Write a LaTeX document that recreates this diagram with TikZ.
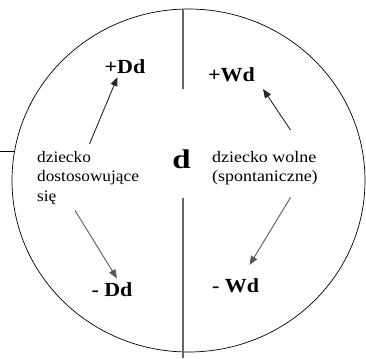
\documentclass[tikz,border=0pt]{standalone}
\usepackage{fontspec}
\usepackage{graphicx}
\setmainfont{Liberation Serif}
\usetikzlibrary{arrows.meta}

% horizontally widened text
\newcommand\widetext[2]{\scalebox{#1}[1]{#2}}
\newcommand\lines[1]{\begin{tabular}[t]{@{}l@{}}#1\end{tabular}}

\begin{document}
\begin{tikzpicture}[x=1pt,y=-1pt,
  sign/.style={font=\fontsize{20}{20}\selectfont\bfseries, anchor=base, inner sep=0pt},
  note/.style={font=\fontsize{16}{19.5}\selectfont, anchor=base west, inner sep=0pt},
  divider/.style={draw=black!60, line width=1.2pt},
  darkarrow/.style={draw=black!85, line width=0.9pt, -{Triangle[length=9pt,width=7pt]}},
  greyarrow/.style={draw=black!65, line width=0.9pt, -{Triangle[length=9pt,width=7pt]}}]
  \useasboundingbox (0,0) rectangle (366,358);

  % outer ellipse
  \draw[line width=0.7pt] (188.5,180.5) ellipse [x radius=176.5, y radius=171.5];

  % short stub on the left rim
  \coordinate (stubL) at (0,151);
  \coordinate (stubR) at (14.6,151);
  \draw[line width=0.7pt] (stubL) -- (stubR);

  % vertical divider, interrupted around the centre
  \coordinate (topA) at (183,9.2);
  \coordinate (topB) at (183,89);
  \coordinate (botA) at (183,198);
  \coordinate (botB) at (183,358);
  \draw[divider] (topA) -- (topB);
  \draw[divider] (botA) -- (botB);

  % centre letter
  \node[font=\fontsize{27}{27}\selectfont\bfseries, anchor=base, inner sep=0pt]
    (center) at (181.5,168.5) {\widetext{1.22}{d}};

  % side descriptions
  \node[note] (adapt) at (37,162)
    {\widetext{1.08}{\lines{dziecko\\dostosowujące\\się}}};
  \node[note] (free) at (212,162)
    {\widetext{1.12}{\lines{dziecko wolne\\(spontaniczne)}}};

  % four poles
  \node[sign] (pDd) at (125,74)  {\widetext{1.1}{+Dd}};
  \node[sign] (pWd) at (231.5,82) {\widetext{1.1}{+Wd}};
  \node[sign] (mDd) at (112,296) {\widetext{1.1}{- Dd}};
  \node[sign] (mWd) at (235.7,292) {\widetext{1.1}{- Wd}};

  % arrow end points
  \coordinate (adaptUp)   at (89.5,144);
  \coordinate (pDdTip)    at (117.5,77);
  \coordinate (freeUp)    at (290.5,130);
  \coordinate (pWdTip)    at (263,89);
  \coordinate (adaptDown) at (75,210.5);
  \coordinate (mDdTip)    at (117,278.5);
  \coordinate (freeDown)  at (290.5,197.5);
  \coordinate (mWdTip)    at (249.5,265);

  \draw[darkarrow] (adaptUp) -- (pDdTip);
  \draw[darkarrow] (freeUp) -- (pWdTip);
  \draw[greyarrow] (adaptDown) -- (mDdTip);
  \draw[greyarrow] (freeDown) -- (mWdTip);
\end{tikzpicture}
\end{document}
